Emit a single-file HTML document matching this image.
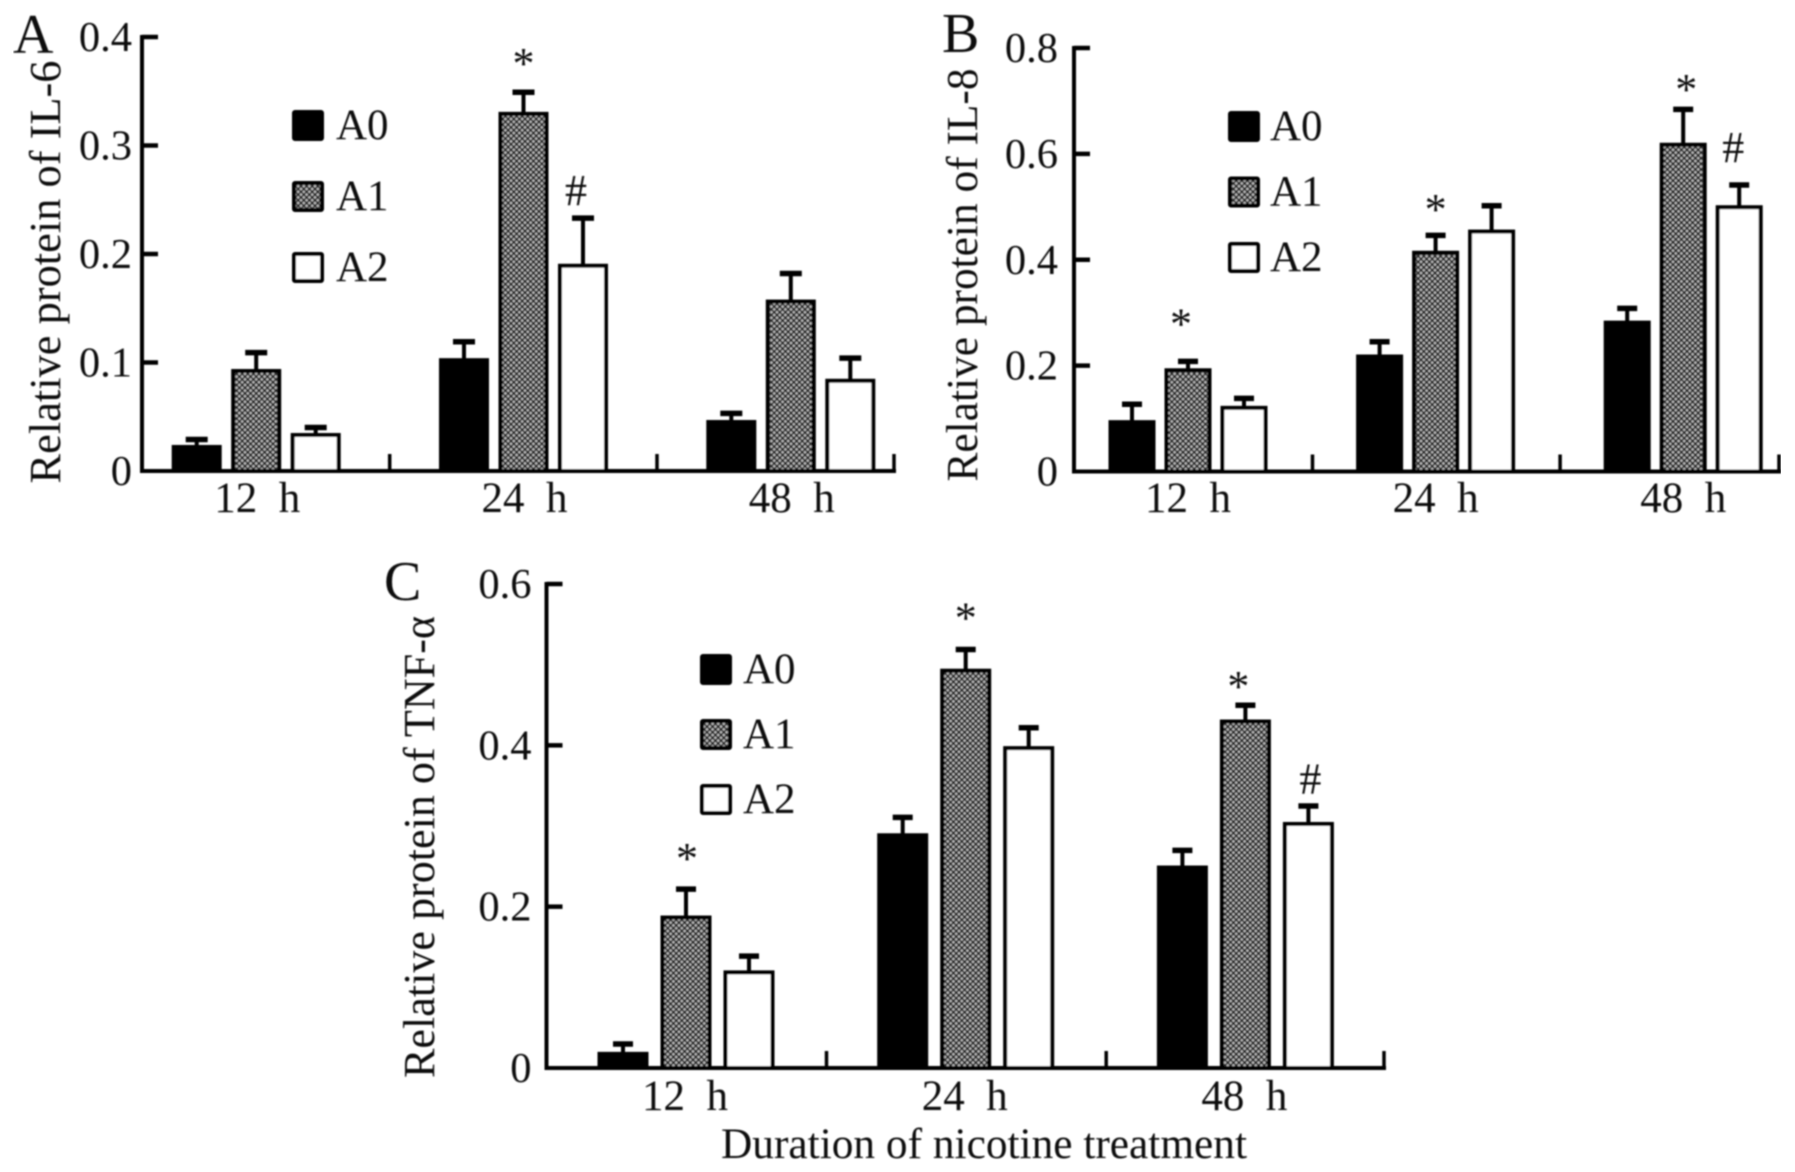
<!DOCTYPE html>
<html lang="en">
<head>
<meta charset="utf-8">
<title>Relative protein of IL-6, IL-8 and TNF-α</title>
<style>
  html, body { margin: 0; padding: 0; background: #fff; }
  body { width: 1795px; height: 1172px; overflow: hidden; }
  svg { display: block; }
  text { font-family: "Liberation Serif", "Noto Serif CJK SC", serif; fill: #111; }
</style>
</head>
<body>
<svg id="chart" xmlns="http://www.w3.org/2000/svg" width="1795" height="1172" viewBox="0 0 1795 1172">
  <defs>
    <pattern id="dots" patternUnits="userSpaceOnUse" width="5.6" height="5.6">
      <rect width="5.6" height="5.6" fill="#2a2a2a"></rect>
      <circle cx="1.4" cy="1.4" r="1.25" fill="#c4c4c4"></circle>
      <circle cx="4.2" cy="4.2" r="1.25" fill="#c4c4c4"></circle>
    </pattern>
    <filter id="soft" x="0" y="0" width="100%" height="100%">
      <feGaussianBlur stdDeviation="0.7"></feGaussianBlur>
    </filter>
  </defs>
  <rect width="1795" height="1172" fill="#fff"></rect>
  <g id="root" filter="url(#soft)"></g>
</svg>
<script>
// ---- shared categories and series names ----
const categories = ['12\u00a0\u00a0h', '24\u00a0\u00a0h', '48\u00a0\u00a0h'];
const seriesNames = ['A0', 'A1', 'A2'];

// ---- Panel A: IL-6 ----
const ilSixTicks = [0, 0.1, 0.2, 0.3, 0.4];
const ilSixTickLabels = ['0', '0.1', '0.2', '0.3', '0.4'];
const ilSixA0 = [0.024, 0.104, 0.047];
const ilSixA1 = [0.094, 0.331, 0.158];
const ilSixA2 = [0.035, 0.191, 0.085];
const ilSixA0Err = [0.006, 0.016, 0.007];
const ilSixA1Err = [0.016, 0.019, 0.025];
const ilSixA2Err = [0.006, 0.043, 0.020];
// marker: symbol, category index, series index, value level of the symbol baseline
const ilSixMarkers = [['*', 1, 1, 0.362], ['#', 1, 2, 0.245]];

// ---- Panel B: IL-8 ----
const ilEightTicks = [0, 0.2, 0.4, 0.6, 0.8];
const ilEightTickLabels = ['0', '0.2', '0.4', '0.6', '0.8'];
const ilEightA0 = [0.097, 0.221, 0.285];
const ilEightA1 = [0.195, 0.417, 0.621];
const ilEightA2 = [0.124, 0.457, 0.503];
const ilEightA0Err = [0.032, 0.026, 0.025];
const ilEightA1Err = [0.015, 0.031, 0.065];
const ilEightA2Err = [0.016, 0.047, 0.040];
const ilEightMarkers = [['*', 0, 1, 0.251], ['*', 1, 1, 0.468], ['*', 2, 1, 0.694], ['#', 2, 2, 0.585]];

// ---- Panel C: TNF-alpha ----
const tnfTicks = [0, 0.2, 0.4, 0.6];
const tnfTickLabels = ['0', '0.2', '0.4', '0.6'];
const tnfA0 = [0.020, 0.291, 0.251];
const tnfA1 = [0.189, 0.495, 0.432];
const tnfA2 = [0.121, 0.399, 0.305];
const tnfA0Err = [0.011, 0.021, 0.020];
const tnfA1Err = [0.034, 0.025, 0.019];
const tnfA2Err = [0.019, 0.024, 0.021];
const tnfMarkers = [['*', 0, 1, 0.242], ['*', 1, 1, 0.540], ['*', 2, 1, 0.455], ['#', 2, 2, 0.340]];

const SVG_NS = 'http://www.w3.org/2000/svg';
const root = document.getElementById('root');

function make(parent, tag, attrs, content) {
  const el = document.createElementNS(SVG_NS, tag);
  for (const k in attrs) el.setAttribute(k, attrs[k]);
  if (content !== undefined) el.textContent = content;
  parent.appendChild(el);
  return el;
}

const seriesFill = ['#000', 'url(#dots)', '#fff'];

function drawPanel(p) {
  const g = make(root, 'g', {});
  
  

  const yMax = p.ticks[p.ticks.length - 1];
  const yOf = v => p.y0 - (v / yMax) * (p.y0 - p.yTop);
  const barLeft = (c, s) => p.firstBar + c * p.groupStep + s * p.barStep;
  const barCenter = (c, s) => barLeft(c, s) + p.barW / 2;

  // panel letter
  const letter = make(g, 'text', { x: p.letterX, y: p.letterY, 'font-size': 56 }, p.letter);
  
  

  // y axis title
  const yTitle = make(g, 'text', {
    x: 0, y: 0, 'font-size': 44, 'text-anchor': 'middle',
    textLength: p.yTitleLen, lengthAdjust: 'spacingAndGlyphs',
    transform: 'translate(' + p.yTitleX + ',' + p.yTitleY + ') rotate(-90)'
  }, p.yTitle);
  
  

  // bars and error bars
  p.values.forEach((vals, s) => {
    vals.forEach((v, c) => {
      const top = yOf(v);
      const x = barLeft(c, s);
      const errTop = yOf(v + p.errors[s][c]);
      const cx = barCenter(c, s);

      const stem = make(g, 'line', { x1: cx, x2: cx, y1: top + 2, y2: errTop, stroke: '#000', 'stroke-width': 4 });
      
      

      const cap = make(g, 'line', { x1: cx - p.capW / 2, x2: cx + p.capW / 2, y1: errTop + 1, y2: errTop + 1, stroke: '#000', 'stroke-width': 5.5 });
      
      

      const bar = make(g, 'rect', {
        x: x + 2, y: top + 2, width: p.barW - 4, height: Math.max(0, p.y0 - top - 2),
        fill: seriesFill[s], stroke: '#000', 'stroke-width': 4
      });
      
      
    });
  });

  // axes
  const yAxis = make(g, 'line', { x1: p.axisX, x2: p.axisX, y1: p.yTop - 2, y2: p.y0 + 2, stroke: '#000', 'stroke-width': 4 });
  
  

  const xAxis = make(g, 'line', { x1: p.axisX - 2, x2: p.axisEnd + 2, y1: p.y0, y2: p.y0, stroke: '#000', 'stroke-width': 4 });
  
  

  // y ticks
  p.ticks.forEach((t, i) => {
    const y = yOf(t);
    if (t !== 0) {
      const tick = make(g, 'line', { x1: p.axisX, x2: p.axisX + 16, y1: y, y2: y, stroke: '#000', 'stroke-width': 4.5 });
      
      
    }
    const label = make(g, 'text', { x: p.axisX - p.labelGap, y: y + 14, 'font-size': 42.5, 'text-anchor': 'end' }, p.tickLabels[i]);
    
    
  });

  // x ticks between groups and category labels
  categories.forEach((name, c) => {
    const tx = c === categories.length - 1 ? p.axisEnd : p.firstBar + c * p.groupStep + p.tickOffset;
    const tick = make(g, 'line', { x1: tx, x2: tx, y1: p.y0, y2: p.y0 - 17, stroke: '#000', 'stroke-width': 3.5 });
    
    

    const label = make(g, 'text', { x: barCenter(c, 1) + p.catDx, y: p.catY, 'font-size': 43, 'text-anchor': 'middle' }, name);
    
    
  });

  // significance markers
  p.markers.forEach((m, i) => {
    const mark = make(g, 'text', { x: barCenter(m[1], m[2]) + p.markerDx[i], y: yOf(m[3]), 'font-size': 44, 'text-anchor': 'middle' }, m[0]);
    
    
  });

  // legend
  seriesNames.forEach((name, s) => {
    const y = p.legendY + s * p.legendStep;
    const swatch = make(g, 'rect', {
      x: p.legendX + 2, y: y + 2, width: 28, height: 27, rx: 1,
      fill: seriesFill[s], stroke: '#000', 'stroke-width': 4
    });
    
    

    const text = make(g, 'text', { x: p.legendX + p.legendTextGap, y: y + 29, 'font-size': 43 }, name);
    
    
  });
}

drawPanel({
  id: 'il-6', letter: 'A', letterX: 13, letterY: 53,
  yTitle: 'Relative protein of IL-6', yTitleX: 60, yTitleY: 272, yTitleLen: 423,
  ticks: ilSixTicks, tickLabels: ilSixTickLabels,
  values: [ilSixA0, ilSixA1, ilSixA2], errors: [ilSixA0Err, ilSixA1Err, ilSixA2Err], markers: ilSixMarkers,
  markerDx: [0, -7],
  axisX: 142, axisEnd: 894, y0: 471, yTop: 37, labelGap: 10,
  firstBar: 171.7, groupStep: 267.3, barStep: 59.5, barW: 50, capW: 22, tickOffset: 218,
  catY: 512, catDx: 1, legendX: 292, legendY: 110, legendStep: 71, legendTextGap: 44
});

drawPanel({
  id: 'il-8', letter: 'B', letterX: 942, letterY: 52,
  yTitle: 'Relative protein of IL-8', yTitleX: 977, yTitleY: 275, yTitleLen: 413,
  ticks: ilEightTicks, tickLabels: ilEightTickLabels,
  values: [ilEightA0, ilEightA1, ilEightA2], errors: [ilEightA0Err, ilEightA1Err, ilEightA2Err], markers: ilEightMarkers,
  markerDx: [-7, 0, 3, -6],
  axisX: 1074, axisEnd: 1779, y0: 471.5, yTop: 48, labelGap: 16,
  firstBar: 1108.5, groupStep: 247.6, barStep: 56, barW: 47, capW: 20, tickOffset: 204,
  catY: 512, catDx: 0, legendX: 1228, legendY: 111, legendStep: 65.5, legendTextGap: 42
});

drawPanel({
  id: 'tnf-alpha', letter: 'C', letterX: 384, letterY: 600,
  yTitle: 'Relative protein of TNF-\u03b1', yTitleX: 434, yTitleY: 847, yTitleLen: 462,
  ticks: tnfTicks, tickLabels: tnfTickLabels,
  values: [tnfA0, tnfA1, tnfA2], errors: [tnfA0Err, tnfA1Err, tnfA2Err], markers: tnfMarkers,
  markerDx: [1, 0, -7, 2],
  axisX: 546.5, axisEnd: 1384, y0: 1068, yTop: 584, labelGap: 15,
  firstBar: 597.5, groupStep: 279.7, barStep: 63, barW: 51, capW: 20, tickOffset: 229,
  catY: 1110, catDx: -1, legendX: 700, legendY: 654, legendStep: 65, legendTextGap: 43
});

const xTitle = make(root, 'text', { x: 984, y: 1158, 'font-size': 43, 'text-anchor': 'middle', textLength: 526, lengthAdjust: 'spacingAndGlyphs' }, 'Duration of nicotine treatment');


</script>
</body>
</html>
